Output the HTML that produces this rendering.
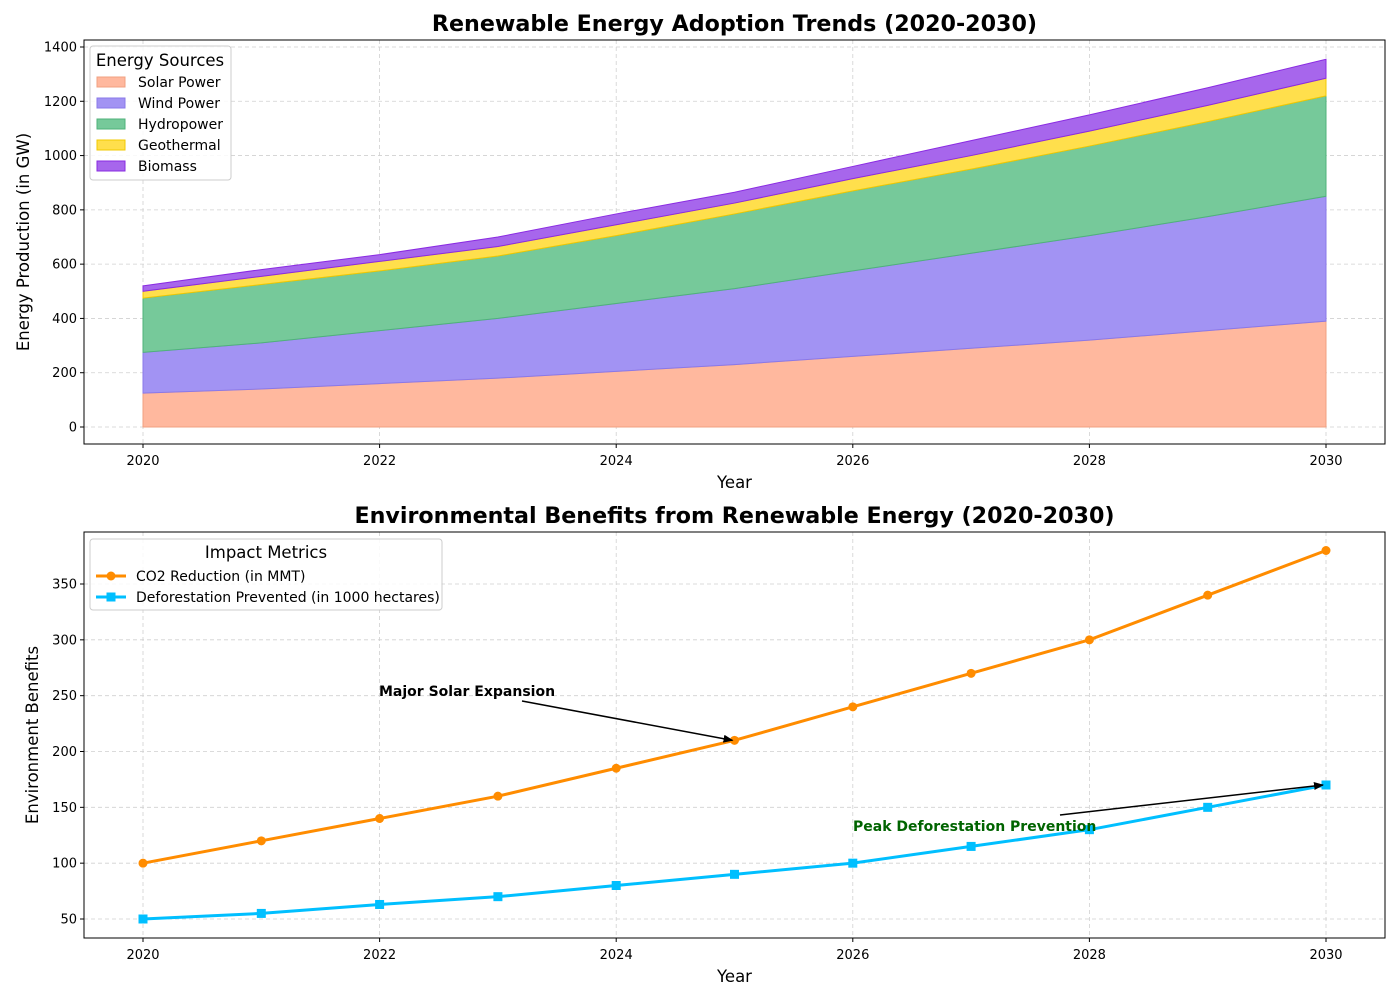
<!DOCTYPE html>
<html><head><meta charset="utf-8"><style>
body{margin:0;background:#fff;font-family:"Liberation Sans","DejaVu Sans",sans-serif}
svg text{font-family:"DejaVu Sans","Liberation Sans",sans-serif}
</style></head><body>
<svg id="c" width="1400" height="1000" xmlns="http://www.w3.org/2000/svg"></svg>
<script>
const years=[2020,2021,2022,2023,2024,2025,2026,2027,2028,2029,2030];
const solar=[125,140,160,180,205,230,260,290,320,355,390];
const wind=[150,170,195,220,250,280,315,350,385,420,460];
const hydro=[200,215,220,230,250,275,295,310,330,350,370];
const geothermal=[25,30,35,35,40,40,45,50,55,60,65];
const biomass=[20,25,25,35,40,40,45,55,60,65,70];
const co2=[100,120,140,160,185,210,240,270,300,340,380];
const defor=[50,55,63,70,80,90,100,115,130,150,170];
const topTicks=[0,200,400,600,800,1000,1200,1400];
const botTicks=[50,100,150,200,250,300,350];
const xTicks=[2020,2022,2024,2026,2028,2030];

const svg=document.getElementById('c');const NS='http://www.w3.org/2000/svg';
function el(t,a,txt,p){const e=document.createElementNS(NS,t);for(const k in a)e.setAttribute(k,a[k]);if(txt!=null)e.textContent=txt;(p||svg).appendChild(e);return e;}
const X=y=>143+(y-2020)*118.3;
const L=84,R=1385;
const T0=40,T1=444;const Yt=v=>427-v*(380/1400);
const Yb=v=>919-(v-50)*(335/300);
function axes(top,bot,Y,ticks,name){
  el('rect',{x:L,y:top,width:R-L,height:bot-top,fill:'#fff',stroke:'none'});
  xTicks.forEach(t=>{const g=el('line',{x1:X(t),x2:X(t),y1:top,y2:bot,stroke:'#d0d0d0','stroke-dasharray':'4,3','stroke-width':0.8});});
  ticks.forEach(t=>{const g=el('line',{x1:L,x2:R,y1:Y(t),y2:Y(t),stroke:'#d0d0d0','stroke-dasharray':'4,3','stroke-width':0.8});});
}
function frame(top,bot,Y,ticks,ylabel,title,name){
  const r=el('rect',{x:L,y:top,width:R-L,height:bot-top,fill:'none',stroke:'#000','stroke-width':1});
  
  xTicks.forEach(t=>{el('line',{x1:X(t),x2:X(t),y1:bot,y2:bot+4,stroke:'#000'});
    const tx=el('text',{x:X(t),y:bot+21,'text-anchor':'middle','font-size':13},t);});
  ticks.forEach(t=>{el('line',{x1:L-4,x2:L,y1:Y(t),y2:Y(t),stroke:'#000'});
    const tx=el('text',{x:L-7,y:Y(t)+4.5,'text-anchor':'end','font-size':13},t);});
  let a=el('text',{x:(L+R)/2,y:bot+44,'text-anchor':'middle','font-size':16.5},'Year');
  const cy=(top+bot)/2;const xx=name==='top'?29:38;
  a=el('text',{x:xx,y:cy,'text-anchor':'middle','font-size':16.5,transform:`rotate(-90 ${xx} ${cy})`},ylabel);
  a=el('text',{x:(L+R)/2,y:top-9,'text-anchor':'middle','font-size':22.2,'font-weight':'bold'},title);
}
axes(T0,T1,Yt,topTicks,'top');
const series=[[solar,'#ffb89e','#f0a080','Solar Power'],[wind,'#a293f3','#8a78e8','Wind Power'],[hydro,'#76c99a','#4fb27a','Hydropower'],[geothermal,'#ffdf4c','#f2c800','Geothermal'],[biomass,'#a766ec','#8a2be2','Biomass']];
let base=years.map(()=>0);
series.forEach(([vals,fill,stroke,label])=>{
  const topv=base.map((b,i)=>b+vals[i]);
  let d='M'+years.map((y,i)=>X(y)+','+Yt(topv[i])).join('L');
  d+='L'+years.slice().reverse().map((y,j)=>X(y)+','+Yt(base[years.length-1-j])).join('L')+'Z';
  const p=el('path',{d,fill,stroke,'stroke-width':1});
  
  base=topv;
});
frame(T0,T1,Yt,topTicks,'Energy Production (in GW)','Renewable Energy Adoption Trends (2020-2030)','top');
const lg=el('g',{});
el('rect',{x:90,y:46,width:141,height:134,rx:3,fill:'#fff','fill-opacity':0.85,stroke:'#ccc'},null,lg);
el('text',{x:160,y:66,'text-anchor':'middle','font-size':16.5},'Energy Sources',lg);
series.forEach((s,i)=>{const y=77+i*21;el('rect',{x:97,y:y,width:28,height:10,fill:s[1],stroke:s[2]},null,lg);
  const t=el('text',{x:138,y:y+10,'font-size':14},s[3],lg);});
const B0=532,B1=938;
axes(B0,B1,Yb,botTicks,'bot');
function line(vals,color,marker,name){
  const p=el('polyline',{points:years.map((y,i)=>X(y)+','+Yb(vals[i])).join(' '),fill:'none',stroke:color,'stroke-width':3});
  
  years.forEach((y,i)=>{let m;
    if(marker==='o')m=el('circle',{cx:X(y),cy:Yb(vals[i]),r:4.5,fill:color});
    else m=el('rect',{x:X(y)-4.5,y:Yb(vals[i])-4.5,width:9,height:9,fill:color});
    });
}
line(co2,'#ff8c00','o','co2-reduction');
line(defor,'#00bfff','s','deforestation-prevented');
frame(B0,B1,Yb,botTicks,'Environment Benefits','Environmental Benefits from Renewable Energy (2020-2030)','bottom');
el('defs',{}).innerHTML='<marker id="ah" markerWidth="10" markerHeight="8" refX="9" refY="4" orient="auto" markerUnits="userSpaceOnUse"><path d="M0,0L10,4L0,8Z" fill="#000"/></marker>';
let a=el('line',{x1:522,y1:701,x2:X(2025)-2,y2:Yb(210),stroke:'#000','stroke-width':1.5,'marker-end':'url(#ah)'});
a=el('text',{x:379,y:696,'font-size':14,'font-weight':'bold'},'Major Solar Expansion');
a=el('line',{x1:1060,y1:815,x2:X(2030)-3,y2:Yb(170),stroke:'#000','stroke-width':1.5,'marker-end':'url(#ah)'});
a=el('text',{x:853,y:831,'font-size':14,'font-weight':'bold',fill:'#006400'},'Peak Deforestation Prevention');
const lg2=el('g',{});
el('rect',{x:90,y:539,width:352,height:71,rx:3,fill:'#fff','fill-opacity':0.85,stroke:'#ccc'},null,lg2);
el('text',{x:266,y:558,'text-anchor':'middle','font-size':16.5},'Impact Metrics',lg2);
[['#ff8c00','o','CO2 Reduction (in MMT)'],['#00bfff','s','Deforestation Prevented (in 1000 hectares)']].forEach((s,i)=>{const y=576+i*21;
  el('line',{x1:96,x2:126,y1:y,y2:y,stroke:s[0],'stroke-width':3},null,lg2);
  if(s[1]==='o')el('circle',{cx:111,cy:y,r:4.5,fill:s[0]},null,lg2);else el('rect',{x:106.5,y:y-4.5,width:9,height:9,fill:s[0]},null,lg2);
  const t=el('text',{x:136,y:y+5,'font-size':14},s[2],lg2);});
</script>
</body></html>
